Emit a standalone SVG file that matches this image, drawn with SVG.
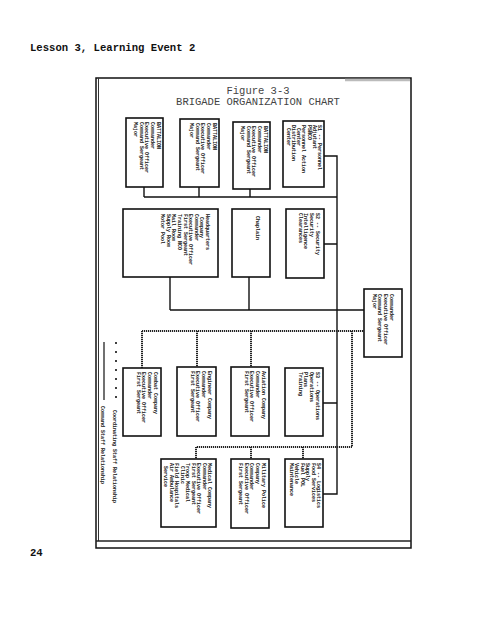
<svg xmlns="http://www.w3.org/2000/svg" width="495" height="640" viewBox="0 0 495 640">
<style>
.box{fill:#fff;stroke:#111;stroke-width:1.6}
.cmd{fill:none;stroke:#111;stroke-width:1.4}
.crd{fill:none;stroke:#222;stroke-width:2;stroke-dasharray:1.2 0.8}
.t{font-family:"Liberation Mono","DejaVu Sans Mono",monospace;font-weight:bold;font-size:5px;fill:#111}
.pg{font-family:"Liberation Mono","DejaVu Sans Mono",monospace;font-weight:bold;font-size:10.6px;fill:#111}
.ttl{font-family:"Liberation Mono","DejaVu Sans Mono",monospace;font-size:10.5px;fill:#444}
.lg{font-family:"Liberation Mono","DejaVu Sans Mono",monospace;font-weight:bold;font-size:5px;fill:#111}
</style>
<rect width="495" height="640" fill="#fff"/>
<text class="pg" x="30" y="51">Lesson 3, Learning Event 2</text>
<text class="pg" x="30" y="556">24</text>
<g id="frame">
<rect x="96" y="78" width="315" height="470" fill="none" stroke="#111" stroke-width="1.5"/>
<line x1="98.5" y1="78" x2="98.5" y2="541" stroke="#333" stroke-width="1"/>
<line x1="96" y1="541" x2="411" y2="541" stroke="#222" stroke-width="1.6"/>
<line x1="345" y1="80" x2="410" y2="80" stroke="#bbb" stroke-width="2.5"/>
</g>
<text class="ttl" x="258" y="94" text-anchor="middle">Figure 3-3</text>
<text class="ttl" x="258" y="105" text-anchor="middle">BRIGADE ORGANIZATION CHART</text>
<g id="connectors">
<path class="cmd" d="M144 187V197M199 187V197M250 189V197M144 197H337M324 156H337V494H323M324 244H337M323 403H337"/>
<path class="cmd" d="M170 277V310M249 277V310M170 310H364"/>
<path class="crd" d="M142 331H364M142 331V368M197 331V367M251 331V367M352 331V447H196M196 447V459M251 447V459M303 447V459"/>
</g>
<g id="bn1"><rect class="box" x="126" y="118" width="37" height="69"/>
<text class="t" transform="translate(157,122) rotate(90)"><tspan x="0">BATTALION</tspan><tspan x="0" dy="5.8">Commander</tspan><tspan x="0" dy="5.8">Executive Officer</tspan><tspan x="0" dy="5.8">Command Sergeant</tspan><tspan x="0" dy="5.8">Major</tspan></text></g>
<g id="bn2"><rect class="box" x="180" y="119" width="39" height="68"/>
<text class="t" transform="translate(213,123) rotate(90)"><tspan x="0">BATTALION</tspan><tspan x="0" dy="5.8">Commander</tspan><tspan x="0" dy="5.8">Executive Officer</tspan><tspan x="0" dy="5.8">Command Sergeant</tspan><tspan x="0" dy="5.8">Major</tspan></text></g>
<g id="bn3"><rect class="box" x="233" y="122" width="37" height="67"/>
<text class="t" transform="translate(264,126) rotate(90)"><tspan x="0">BATTALION</tspan><tspan x="0" dy="5.8">Commander</tspan><tspan x="0" dy="5.8">Executive Officer</tspan><tspan x="0" dy="5.8">Command Sergeant</tspan><tspan x="0" dy="5.8">Major</tspan></text></g>
<g id="s1"><rect class="box" x="283" y="121" width="41" height="66"/>
<text class="t" transform="translate(318,125) rotate(90)"><tspan x="0">S1 -- Personnel</tspan><tspan x="0" dy="5.2">Adjutant</tspan><tspan x="0" dy="5.2">PSNCO</tspan><tspan x="0" dy="5.2">Personnel Action</tspan><tspan x="0" dy="5.2">  Center</tspan><tspan x="0" dy="5.2">Distribution</tspan><tspan x="0" dy="5.2">  Center</tspan></text></g>
<g id="hq"><rect class="box" x="123" y="209" width="95" height="68"/>
<text class="t" transform="translate(206,214) rotate(90)"><tspan x="0">Headquarters</tspan><tspan x="0" dy="5.6">    Company</tspan><tspan x="0" dy="5.6">Commander</tspan><tspan x="0" dy="5.6">Executive Officer</tspan><tspan x="0" dy="5.6">First Sergeant</tspan><tspan x="0" dy="5.6">Training NCO</tspan><tspan x="0" dy="5.6">Mail Room</tspan><tspan x="0" dy="5.6">Supply Room</tspan><tspan x="0" dy="5.6">Motor Pool</tspan></text></g>
<g id="chaplain"><rect class="box" x="232" y="209" width="38" height="68"/>
<text class="t" transform="translate(256,216) rotate(90)">Chaplain</text></g>
<g id="s2"><rect class="box" x="286" y="209" width="38" height="69"/>
<text class="t" transform="translate(316,213) rotate(90)"><tspan x="0">S2 -- Security</tspan><tspan x="0" dy="5.8">Security</tspan><tspan x="0" dy="5.8">Intelligence</tspan><tspan x="0" dy="5.8">Clearances</tspan></text></g>
<g id="commander"><rect class="box" x="364" y="289" width="38" height="68"/>
<text class="t" transform="translate(390,294) rotate(90)"><tspan x="0">Commander</tspan><tspan x="0" dy="5.8">Executive Officer</tspan><tspan x="0" dy="5.8">Command Sergeant</tspan><tspan x="0" dy="5.8">Major</tspan></text></g>
<g id="combat"><rect class="box" x="123" y="368" width="38" height="68"/>
<text class="t" transform="translate(154,372) rotate(90)"><tspan x="0">Combat Company</tspan><tspan x="0" dy="5.8">Commander</tspan><tspan x="0" dy="5.8">Executive Officer</tspan><tspan x="0" dy="5.8">First Sergeant</tspan></text></g>
<g id="engineer"><rect class="box" x="177" y="367" width="39" height="69"/>
<text class="t" transform="translate(208,371) rotate(90)"><tspan x="0">Engineer Company</tspan><tspan x="0" dy="5.8">Commander</tspan><tspan x="0" dy="5.8">Executive Officer</tspan><tspan x="0" dy="5.8">First Sergeant</tspan></text></g>
<g id="aviation"><rect class="box" x="231" y="367" width="38" height="69"/>
<text class="t" transform="translate(262,371) rotate(90)"><tspan x="0">Aviation Company</tspan><tspan x="0" dy="5.8">Commander</tspan><tspan x="0" dy="5.8">Executive Officer</tspan><tspan x="0" dy="5.8">First Sergeant</tspan></text></g>
<g id="s3"><rect class="box" x="285" y="368" width="38" height="68"/>
<text class="t" transform="translate(316,372) rotate(90)"><tspan x="0">S3 -- Operations</tspan><tspan x="0" dy="5.8">Operations</tspan><tspan x="0" dy="5.8">Plans</tspan><tspan x="0" dy="5.8">Training</tspan></text></g>
<g id="medical"><rect class="box" x="161" y="459" width="55" height="68"/>
<text class="t" transform="translate(208,463) rotate(90)"><tspan x="0">Medical Company</tspan><tspan x="0" dy="5.5">Commander</tspan><tspan x="0" dy="5.5">Executive Officer</tspan><tspan x="0" dy="5.5">First Sergeant</tspan><tspan x="0" dy="5.5">Troop Medical</tspan><tspan x="0" dy="5.5">   Clinic</tspan><tspan x="0" dy="5.5">Field Hospitals</tspan><tspan x="0" dy="5.5">Air Ambulance</tspan><tspan x="0" dy="5.5">  Service</tspan></text></g>
<g id="mp"><rect class="box" x="231" y="459" width="38" height="69"/>
<text class="t" transform="translate(262,463) rotate(90)"><tspan x="0">Military Police</tspan><tspan x="0" dy="5.8">Company</tspan><tspan x="0" dy="5.8">Commander</tspan><tspan x="0" dy="5.8">Executive Officer</tspan><tspan x="0" dy="5.8">First Sergeant</tspan></text></g>
<g id="s4"><rect class="box" x="285" y="459" width="38" height="68"/>
<text class="t" transform="translate(317,463) rotate(90)"><tspan x="0">S4 -- Logistics</tspan><tspan x="0" dy="5.4">Food Services</tspan><tspan x="0" dy="5.4">Supply</tspan><tspan x="0" dy="5.4">Fuel POL</tspan><tspan x="0" dy="5.4">Vehicle</tspan><tspan x="0" dy="5.4">Maintenance</tspan></text></g>
<g id="legend">
<line x1="116" y1="342" x2="116" y2="402" stroke="#111" stroke-width="1.6" stroke-dasharray="2 7"/>
<text class="lg" transform="translate(112.5,410) rotate(90)">Coordinating Staff Relationship</text>
<line x1="104" y1="342" x2="104" y2="400" stroke="#111" stroke-width="1.2"/>
<text class="lg" transform="translate(101,406) rotate(90)">Command Staff Relationship</text>
</g>
</svg>
